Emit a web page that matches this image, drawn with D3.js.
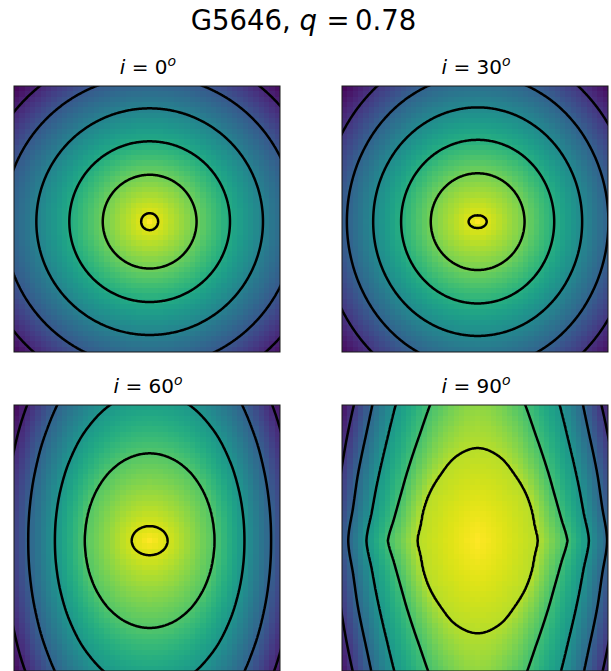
<!DOCTYPE html>
<html>
<head>
<meta charset="utf-8">
<script src="https://cdn.jsdelivr.net/npm/d3@7"></script>
<style>
  html, body { margin: 0; padding: 0; background: #ffffff; }
  svg { display: block; }
  text { font-family: "DejaVu Sans", sans-serif; fill: #000; }
</style>
</head>
<body>
<svg id="chart" width="611" height="671"></svg>
<script>
// ---------------- data ----------------
const galaxyId = "G5646";
const axisRatioQ = "0.78";
const inclinations = [0, 30, 60, 90];            // degrees, one panel each
const gridSize = 50;                              // model image is 50 x 50 pixels
const peakIndex = 25;                             // brightest pixel (column/row index)
const sampleAngles = [0, 15, 30, 45, 60, 75, 90]; // polar angles where contour radii were read
const peakLevel = 1.0;                            // colour-scale value at the peak
const pointedSides = [false, false, false, true]; // contours meet the x-axis in a corner

// colour-scale value of each contour (inner -> outer)
const levels_i0  = [0.95, 0.78, 0.61, 0.44, 0.27, 0.10];
const levels_i30 = [0.95, 0.79, 0.63, 0.47, 0.31, 0.15];
const levels_i60 = [0.94, 0.73, 0.52, 0.31, 0.10];
const levels_i90 = [0.89, 0.70, 0.52, 0.33, 0.15];

// contour radius (model pixels) at each sample angle, one row per contour
const radii_i0 = [
  [1.59, 1.59, 1.59, 1.59, 1.59, 1.59, 1.59],
  [8.82, 8.82, 8.82, 8.82, 8.82, 8.82, 8.82],
  [15.10, 15.10, 15.10, 15.10, 15.10, 15.10, 15.10],
  [21.30, 21.30, 21.30, 21.30, 21.30, 21.30, 21.30],
  [27.40, 27.40, 27.40, 27.40, 27.40, 27.40, 27.40],
  [32.80, 32.80, 32.80, 32.80, 32.80, 32.80, 32.80]
];
const radii_i30 = [
  [1.69, 1.63, 1.50, 1.37, 1.27, 1.20, 1.18],
  [8.82, 8.84, 8.89, 8.95, 9.02, 9.08, 9.10],
  [14.39, 14.45, 14.62, 14.86, 15.12, 15.31, 15.38],
  [19.64, 19.76, 20.06, 20.51, 20.98, 21.34, 21.48],
  [24.58, 24.75, 25.23, 25.95, 26.72, 27.34, 27.58],
  [29.46, 29.66, 30.26, 31.16, 32.14, 32.91, 33.21]
];
const radii_i60 = [
  [3.38, 3.32, 3.17, 3.00, 2.85, 2.75, 2.72],
  [12.20, 12.38, 12.95, 13.85, 14.97, 15.98, 16.42],
  [17.82, 18.19, 19.32, 21.28, 23.98, 26.75, 28.05],
  [22.83, 23.36, 24.99, 27.90, 32.16, 36.89, 39.21],
  [27.32, 27.95, 29.92, 33.49, 38.71, 44.56, 47.47]
];
const radii_i90 = [
  [11.35, 11.14, 11.74, 12.76, 14.17, 16.27, 17.41],
  [16.89, 16.25, 16.77, 18.61, 22.25, 29.64, 43.15],
  [20.92, 20.62, 21.80, 24.62, 30.39, 42.21, 61.91],
  [24.33, 24.24, 25.89, 29.40, 36.89, 54.41, 84.43],
  [27.32, 27.34, 29.34, 33.49, 41.39, 59.29, 93.81]
];

const panelLevels = [levels_i0, levels_i30, levels_i60, levels_i90];
const panelRadii = [radii_i0, radii_i30, radii_i60, radii_i90];

// ---------------- layout ----------------
const panelSize = 266;
const panelOrigins = [[14, 86], [342, 86], [14, 405], [342, 405]];

const svg = d3.select("#chart");
const color = d3.scaleSequential(d3.interpolateViridis).domain([0, 1]).clamp(true);

// smooth (Catmull-Rom) interpolation of the inverse radius between sampled angles
function radiusAt(row, a, cusp) {
  const h = sampleAngles[1] - sampleAngles[0];
  const n = row.length;
  const u = i => {
    if (i < 0) return cusp ? 2 / row[0] - 1 / row[-i] : 1 / row[-i];
    if (i > n - 1) return 1 / row[2 * (n - 1) - i];
    return 1 / row[i];
  };
  let k = Math.floor((a - sampleAngles[0]) / h);
  k = Math.max(0, Math.min(k, n - 2));
  const t = (a - sampleAngles[k]) / h;
  const p0 = u(k - 1), p1 = u(k), p2 = u(k + 1), p3 = u(k + 2);
  const v = 0.5 * (2 * p1 + (-p0 + p2) * t + (2 * p0 - 5 * p1 + 4 * p2 - p3) * t * t +
            (-p0 + 3 * p1 - 3 * p2 + p3) * t * t * t);
  return 1 / v;
}

function fieldAt(levels, radii, cusp, dx, dy) {
  const r = Math.hypot(dx, dy);
  const a = Math.atan2(Math.abs(dy), Math.abs(dx)) * 180 / Math.PI;
  const R = radii.map(row => radiusAt(row, a, cusp));
  if (r <= R[0]) return peakLevel + (levels[0] - peakLevel) * r / R[0];
  for (let k = 1; k < R.length; k++) {
    if (r <= R[k]) return levels[k - 1] + (levels[k] - levels[k - 1]) * (r - R[k - 1]) / (R[k] - R[k - 1]);
  }
  const n = R.length;
  return levels[n - 1] + (levels[n - 1] - levels[n - 2]) * (r - R[n - 1]) / (R[n - 1] - R[n - 2]);
}

// suptitle
const sup = svg.append("text")
  .attr("x", 303.5).attr("y", 30)
  .attr("text-anchor", "middle")
  .attr("font-size", 27.5);
sup.append("tspan").text(galaxyId + ", ");
sup.append("tspan").attr("font-style", "italic").text("q");
sup.append("tspan").attr("dx", 4).text("\u2009=\u2009" + axisRatioQ);

const defs = svg.append("defs");

inclinations.forEach((inc, idx) => {
  const [ox, oy] = panelOrigins[idx];
  const levels = panelLevels[idx];
  const radii = panelRadii[idx];
  const cusp = pointedSides[idx];
  const lo = -peakIndex - 0.5, hi = gridSize - peakIndex - 0.5;
  const x = d3.scaleLinear().domain([lo, hi]).range([ox, ox + panelSize]);
  const y = d3.scaleLinear().domain([lo, hi]).range([oy, oy + panelSize]);

  const clipId = "clip" + idx;
  defs.append("clipPath").attr("id", clipId)
    .append("rect").attr("x", ox).attr("y", oy).attr("width", panelSize).attr("height", panelSize);

  const g = svg.append("g").attr("clip-path", `url(#${clipId})`);

  // image cells
  const cells = d3.range(gridSize * gridSize).map(k => {
    const i = k % gridSize, j = Math.floor(k / gridSize);
    const dx = i - peakIndex, dy = j - peakIndex;
    return { dx, dy, v: fieldAt(levels, radii, cusp, dx, dy) };
  });
  const cw = x(1) - x(0);
  g.append("g").attr("shape-rendering", "crispEdges")
    .selectAll("rect").data(cells).join("rect")
    .attr("x", d => x(d.dx - 0.5))
    .attr("y", d => y(d.dy - 0.5))
    .attr("width", cw + 0.6)
    .attr("height", cw + 0.6)
    .attr("fill", d => color(d.v));

  // contours from a fine sampling of the same field
  const pad = 2.5;
  const flo = lo - pad, fhi = hi + pad;
  const n = 280;
  const step = (fhi - flo) / n;
  const values = new Float64Array(n * n);
  for (let j = 0; j < n; j++) {
    for (let i = 0; i < n; i++) {
      values[j * n + i] = fieldAt(levels, radii, cusp, flo + (i + 0.5) * step, flo + (j + 0.5) * step);
    }
  }
  const contours = d3.contours().size([n, n]).thresholds(levels)(values);
  const proj = d3.geoTransform({
    point(px, py) { this.stream.point(x(flo + px * step), y(flo + py * step)); }
  });
  const path = d3.geoPath(proj);
  g.append("g").selectAll("path").data(contours).join("path")
    .attr("d", path)
    .attr("fill", "none")
    .attr("stroke", "#000")
    .attr("stroke-width", 2.5)
    .attr("stroke-linejoin", "round");

  // frame
  svg.append("rect")
    .attr("x", ox).attr("y", oy).attr("width", panelSize).attr("height", panelSize)
    .attr("fill", "none").attr("stroke", "#1a1a1a").attr("stroke-width", 1);

  // panel title  i = N^o
  const t = svg.append("text")
    .attr("x", ox + panelSize / 2 + 1).attr("y", oy - 12)
    .attr("text-anchor", "middle")
    .attr("font-size", 20);
  t.append("tspan").attr("font-style", "italic").text("i");
  t.append("tspan").text(" = " + inc);
  t.append("tspan").attr("font-style", "italic").attr("font-size", 14).attr("dy", -8).text("o");
});
</script>
</body>
</html>
